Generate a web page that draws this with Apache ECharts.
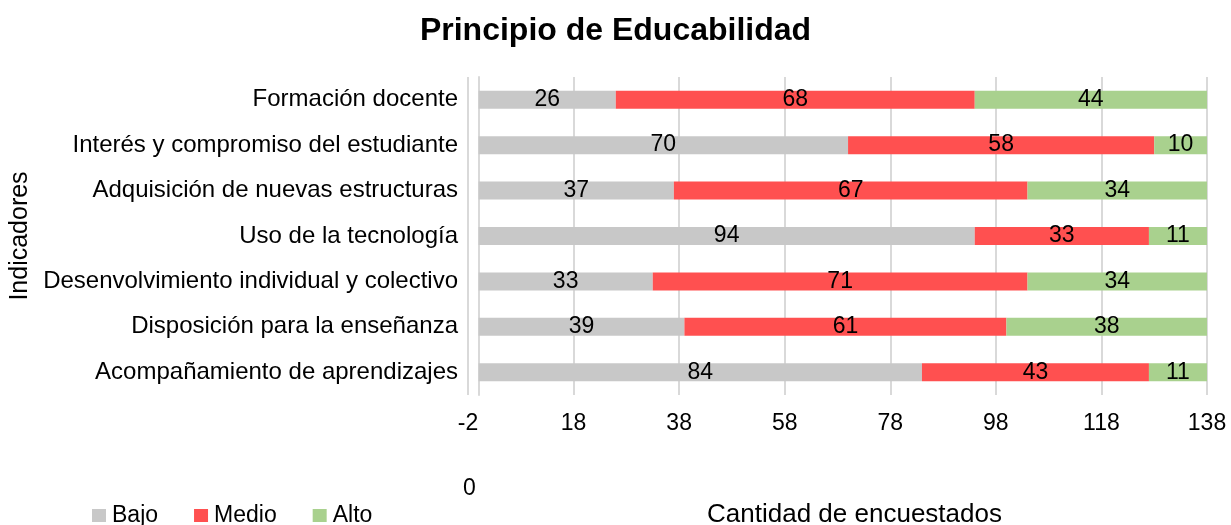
<!DOCTYPE html>
<html>
<head>
<meta charset="utf-8">
<script src="https://cdn.jsdelivr.net/npm/echarts@6/dist/echarts.min.js"></script>
<style>
  html, body { margin: 0; padding: 0; background: #fff; }
  #chart { width: 1231px; height: 525px; }
</style>
</head>
<body>
<div id="chart"></div>
<script>
// indicadores, de arriba hacia abajo
const categories = [
  'Formación docente',
  'Interés y compromiso del estudiante',
  'Adquisición de nuevas estructuras',
  'Uso de la tecnología',
  'Desenvolvimiento individual y colectivo',
  'Disposición para la enseñanza',
  'Acompañamiento de aprendizajes'
]
const bajo = [26, 70, 37, 94, 33, 39, 84]
const medio = [68, 58, 67, 33, 71, 61, 43]
const alto = [44, 10, 34, 11, 34, 38, 11]

const font = 'Liberation Sans, Arial, sans-serif'
const gridColor = '#d9d9d9'

function serie (name, data, color) {
  return {
    name: name,
    type: 'bar',
    stack: 'total',
    data: data,
    barWidth: 18,
    itemStyle: { color: color },
    label: {
      show: true,
      position: 'inside',
      color: '#000',
      fontFamily: font,
      fontSize: 23
    }
  }
}

const option = {
  animation: false,
  textStyle: { fontFamily: font },
  title: {
    text: 'Principio de Educabilidad',
    left: 'center',
    top: 10,
    textStyle: { fontFamily: font, fontSize: 32, fontWeight: 'bold', color: '#000' }
  },
  legend: {
    left: 87,
    top: 499,
    icon: 'rect',
    itemWidth: 14,
    itemHeight: 13,
    itemGap: 36,
    textStyle: { fontFamily: font, fontSize: 23, color: '#000', padding: [0, 0, 0, 1] },
    data: ['Bajo', 'Medio', 'Alto']
  },
  grid: { left: 468, right: 24, top: 77, bottom: 130, outerBoundsMode: 'none', containLabel: false },
  xAxis: {
    type: 'value',
    min: -2,
    max: 138,
    interval: 20,
    name: 'Cantidad de encuestados',
    nameLocation: 'middle',
    nameGap: 107,
    nameTextStyle: { fontFamily: font, fontSize: 26, color: '#000', padding: [0, 0, 0, 34] },
    axisLine: { show: false },
    axisTick: { show: false },
    axisLabel: { fontFamily: font, fontSize: 23, color: '#000', margin: 17 },
    splitLine: { show: true, lineStyle: { color: gridColor, width: 2 } }
  },
  yAxis: {
    type: 'category',
    inverse: true,
    data: categories,
    name: 'Indicadores',
    nameLocation: 'middle',
    nameGap: 434,
    nameTextStyle: { fontFamily: font, fontSize: 25, color: '#000' },
    axisLine: { show: true, onZero: true, lineStyle: { color: gridColor, width: 2 } },
    axisTick: { show: false },
    axisLabel: { fontFamily: font, fontSize: 24, color: '#000', margin: 10 }
  },
  graphic: [{
    type: 'text',
    left: 463,
    top: 477,
    style: { text: '0', fontFamily: font, fontSize: 23, fill: '#000' }
  }],
  series: [
    serie('Bajo', bajo, '#c8c8c8'),
    serie('Medio', medio, '#ff5050'),
    serie('Alto', alto, '#a9d18e')
  ]
}

const myChart = echarts.init(document.getElementById('chart'))
myChart.setOption(option)
</script>
</body>
</html>
